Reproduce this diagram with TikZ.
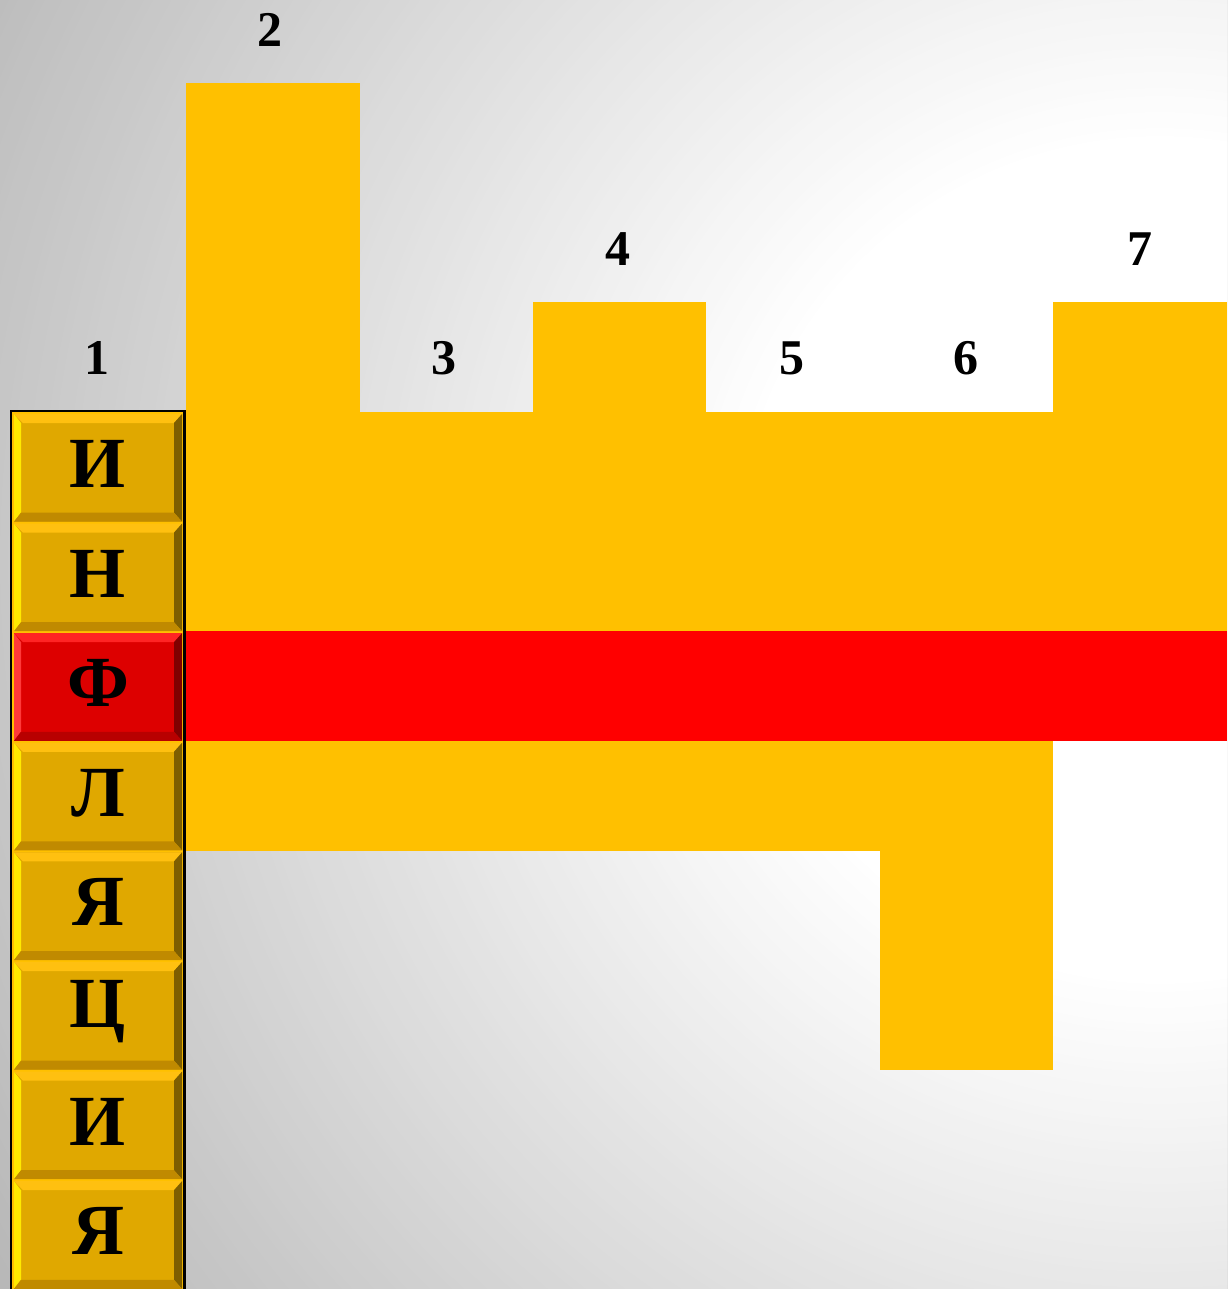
\documentclass[tikz,border=0pt]{standalone}
\usepackage{fontspec}
\setmainfont{Liberation Serif}
\definecolor{bggray}{HTML}{B8B8B8}
\definecolor{cellyellow}{HTML}{FFC000}
\definecolor{cellred}{HTML}{FF0000}
\definecolor{gface}{HTML}{E0A800}
\definecolor{gtop}{HTML}{FFC010}
\definecolor{gleft}{HTML}{FFEA00}
\definecolor{gright}{HTML}{7E5E00}
\definecolor{gbot}{HTML}{C08A00}
\definecolor{rface}{HTML}{DD0000}
\definecolor{rtop}{HTML}{FF2424}
\definecolor{rleft}{HTML}{FF3A3A}
\definecolor{rright}{HTML}{800000}
\definecolor{rbot}{HTML}{B80000}
\definecolor{rimyellow}{HTML}{FFC000}
\begin{document}
\begin{tikzpicture}[x=1pt,y=-1pt,
  num/.style={font=\fontsize{50}{60}\selectfont\bfseries, inner sep=0pt, text=black},
  letter/.style={font=\fontsize{72}{80}\selectfont\bfseries, inner sep=0pt, text=black}]
\useasboundingbox (0,0) rectangle (1227,1289);
% background: radial gradient, white near the right middle, grey towards the left corners
\begin{scope}
\clip (0,0) rectangle (1227,1289);
\fill[bggray] (0,0) rectangle (1227,1289);
\foreach \r in {1440,1432,...,390}{
  \pgfmathsetmacro{\p}{max(0,min(100,(1360-\r)/9.4))}
  \fill[white!\p!bggray] (1160,560) circle (\r);
}
\end{scope}
% crossword cells
\fill[cellyellow] (186,83.2) rectangle (359.5,850.8);
\fill[cellyellow] (359.5,412) rectangle (532.5,850.8);
\fill[cellyellow] (532.5,302.4) rectangle (706,850.8);
\fill[cellyellow] (706,412) rectangle (879.5,850.8);
\fill[cellyellow] (879.5,412) rectangle (1053,1069.6);
\fill[cellyellow] (1053,302.4) rectangle (1227,740.8);
\fill[cellred] (186,631.2) rectangle (1227,740.8);
% tile column frame
\fill[rimyellow] (11,411) rectangle (184.5,1295);
% tiles
\foreach \k/\ch/\kind in {0/И/g,1/Н/g,2/Ф/r,3/Л/g,4/Я/g,5/Ц/g,6/И/g,7/Я/g}{
  \pgfmathsetmacro{\ya}{414+109.6*\k}
  \pgfmathsetmacro{\yb}{412+109.6*(\k+1)}
  \pgfmathsetmacro{\yc}{\ya+9}
  \pgfmathsetmacro{\yd}{\yb-9}
  \fill[\kind face] (14,\ya) rectangle (182,\yb);
  \fill[\kind top] (14,\ya) -- (182,\ya) -- (174,\yc) -- (23,\yc) -- cycle;
  \fill[\kind left] (14,\ya) -- (21,\yc) -- (21,\yd) -- (14,\yb) -- cycle;
  \fill[\kind right] (182,\ya) -- (182,\yb) -- (174,\yd) -- (174,\yc) -- cycle;
  \fill[\kind bot] (14,\yb) -- (182,\yb) -- (174,\yd) -- (21,\yd) -- cycle;
  \node[letter] (t\k) at (98,\ya+50) {\ch};
}
\draw[black, line width=2.5pt] (11,411) rectangle (184.5,1300);
% clue numbers
\node[num] (n1) at (97,358) {1};
\node[num] (n2) at (270,30) {2};
\node[num] (n3) at (444,358) {3};
\node[num] (n4) at (618,249) {4};
\node[num] (n5) at (792,358) {5};
\node[num] (n6) at (966,358) {6};
\node[num] (n7) at (1140,249) {7};
\end{tikzpicture}
\end{document}
